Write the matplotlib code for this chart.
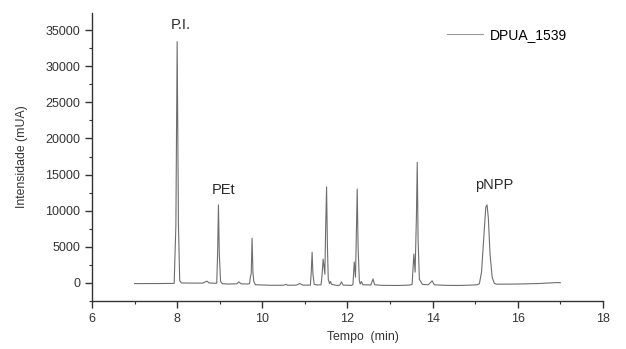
import matplotlib
matplotlib.use("Agg")
import matplotlib.pyplot as plt
from matplotlib.ticker import MultipleLocator

plt.rcParams["font.family"] = ["Liberation Sans", "DejaVu Sans"]

# chromatogram trace (time in min, intensity in mUA)
tempo = [
    7.00, 7.60, 7.90,
    7.93, 7.97, 8.00, 8.03, 8.06, 8.10, 8.30,
    8.60, 8.70, 8.75, 8.90,
    8.93, 8.95, 8.97, 8.99, 9.02, 9.06, 9.20, 9.40, 9.45, 9.50, 9.65,
    9.70, 9.72, 9.74, 9.76, 9.78, 9.80, 9.84, 10.20, 10.50, 10.55, 10.60,
    10.80, 10.88, 10.95, 11.10,
    11.13, 11.15, 11.17, 11.19, 11.22, 11.30, 11.38,
    11.40, 11.43, 11.47, 11.49, 11.51, 11.53, 11.55, 11.58, 11.60, 11.63,
    11.75, 11.82, 11.86, 11.90, 12.10,
    12.13, 12.16, 12.19, 12.21, 12.23, 12.25, 12.28, 12.30, 12.33, 12.36,
    12.55, 12.60, 12.64, 12.80, 13.20, 13.45,
    13.52, 13.56, 13.59, 13.62, 13.64, 13.66, 13.69, 13.72, 13.76, 13.90,
    13.99, 14.04, 14.30, 14.60, 14.90, 15.05,
    15.10, 15.15, 15.20, 15.25, 15.28, 15.31, 15.35, 15.40, 15.45, 15.50,
    16.00, 16.50, 16.90, 17.00,
]
intensidade = [
    -90, -80, -60,
    -50, 8000, 33400, 8000, 300, 0, -20,
    -20, 250, 0, -50,
    -40, 4000, 10800, 4000, 200, -100, -150, -120, 150, -120, -150,
    -100, 800, 1300, 6200, 1500, 200, -250, -320, -320, -200, -320,
    -300, -80, -300, -300,
    -300, 1500, 4250, 1200, -200, -280, -250,
    800, 3300, 1200, 8000, 13300, 5000, 500, -100, 200, -200,
    -350, -300, 150, -300, -330,
    -200, 2900, 800, 7000, 13000, 5000, 300, -150, 200, -250,
    -280, 550, -250, -330, -350, -300,
    -200, 4000, 1500, 9000, 16700, 6000, 500, 200, -200, -250,
    300, -250, -330, -350, -300, -250,
    -100, 1500, 6000, 10500, 10800, 9000, 4000, 800, -50, -170,
    -150, -80, 50, 40,
]

rotulos = ["P.I.", "PEt", "pNPP"]
rotulo_x = [8.09, 9.10, 15.44]
rotulo_y = [35700, 12800, 13500]

fig = plt.figure(figsize=(6.26, 3.49), dpi=100)
ax = fig.add_axes([0.147, 0.1375, 0.816, 0.826])

ax.plot(tempo, intensidade, color="#6e6e6e", lw=0.8, label="DPUA_1539")

for txt, x, y in zip(rotulos, rotulo_x, rotulo_y):
    ax.text(x, y, txt, ha="center", va="center", fontsize=10.5, color="#2a2a2a")

ax.set_xlim(6, 18)
ax.set_ylim(-2500, 37400)
ax.xaxis.set_major_locator(MultipleLocator(2))
ax.xaxis.set_minor_locator(MultipleLocator(1))
ax.yaxis.set_major_locator(MultipleLocator(5000))
ax.yaxis.set_minor_locator(MultipleLocator(2500))

for s in ("top", "right"):
    ax.spines[s].set_visible(False)
for s in ("left", "bottom"):
    ax.spines[s].set_linewidth(1.0)
    ax.spines[s].set_color("#333333")

ax.tick_params(which="major", direction="out", length=5, width=1.0,
               labelsize=9, colors="#333333")
ax.tick_params(which="minor", direction="out", length=2.5, width=0.8,
               colors="#333333")

ax.set_xlabel("Tempo  (min)", fontsize=8.8, color="#333333")
ax.set_ylabel("Intensidade (mUA)", fontsize=8.8, color="#333333")
ax.xaxis.set_label_coords(0.53, -0.105)
ax.yaxis.set_label_coords(-0.125, 0.5)

leg = ax.legend(loc="upper right", bbox_to_anchor=(0.955, 0.99), frameon=False,
                fontsize=10, handlelength=2.6, handletextpad=0.5)
for line in leg.get_lines():
    line.set_color("#9a9a9a")

fig.savefig("out.png", dpi=100)
